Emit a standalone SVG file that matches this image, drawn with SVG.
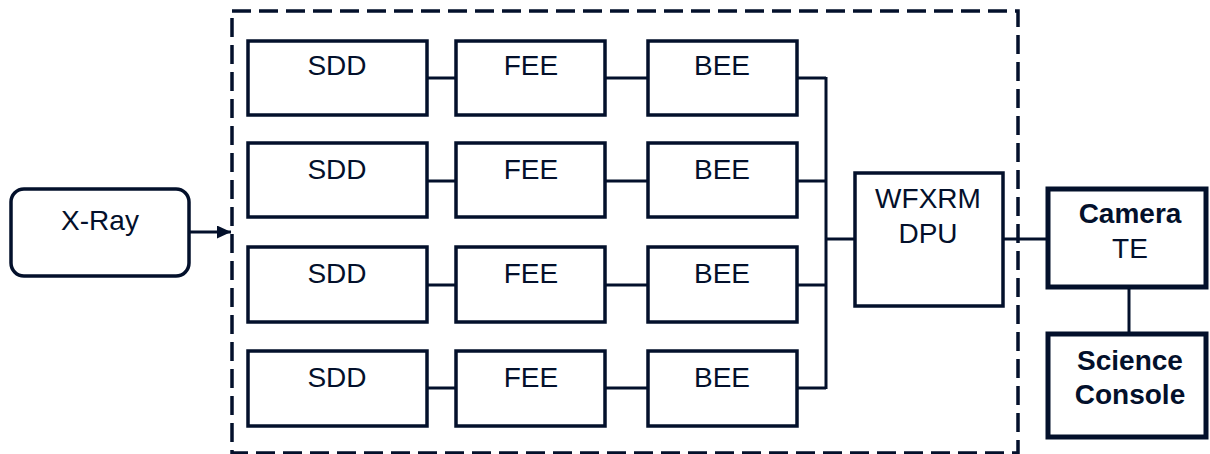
<svg xmlns="http://www.w3.org/2000/svg" width="1210" height="454" viewBox="0 0 1210 454">
<style>
.box{fill:#fff;stroke:#03102b;stroke-width:3.5}
.thick{fill:#fff;stroke:#03102b;stroke-width:5}
.t{font-family:"Liberation Sans",Arial,sans-serif;font-size:28px;fill:#03102b;text-anchor:middle}
.b{font-weight:bold}
.ln{fill:none;stroke:#03102b;stroke-width:3}
</style>
<defs>
<marker id="arr" viewBox="0 0 14 13" refX="14" refY="6.5" markerWidth="14" markerHeight="13" markerUnits="userSpaceOnUse" orient="auto">
<path d="M0,0 L14,6.5 L0,13 z" fill="#03102b"/>
</marker>
</defs>
<rect x="0" y="0" width="1210" height="454" fill="#fff"/>
<rect id="container" x="232" y="11" width="786" height="442" fill="none" stroke="#03102b" stroke-width="3.5" stroke-dasharray="19 8"/>
<g id="connectors">
<line class="ln" x1="190" y1="232" x2="231" y2="232" stroke-width="3.5" marker-end="url(#arr)"/>
<path class="ln" d="M427,78 H455 M605,78 H647 M797,78 H826"/>
<path class="ln" d="M427,181 H455 M605,181 H647 M797,181 H826"/>
<path class="ln" d="M427,285 H455 M605,285 H647 M797,285 H826"/>
<path class="ln" d="M427,388 H455 M605,388 H647 M797,388 H826"/>
<path class="ln" d="M826,77 V389"/>
<path class="ln" d="M826,239 H854" stroke-width="4.5"/>
<path class="ln" d="M1004,239 H1047"/>
<path class="ln" d="M1129,288 V333"/>
</g>
<g id="xray"><rect x="11" y="189" width="178" height="87" rx="13" class="box" stroke-width="4.5"/><text class="t" x="100" y="230">X-Ray</text></g>
<g id="sdd1"><rect class="box" x="248" y="41" width="179" height="74"/><text class="t" x="337" y="75">SDD</text></g>
<g id="fee1"><rect class="box" x="456" y="41" width="149" height="74"/><text class="t" x="531" y="75">FEE</text></g>
<g id="bee1"><rect class="box" x="648" y="41" width="149" height="74"/><text class="t" x="722" y="75">BEE</text></g>
<g id="sdd2"><rect class="box" x="248" y="143" width="179" height="74"/><text class="t" x="337" y="179">SDD</text></g>
<g id="fee2"><rect class="box" x="456" y="143" width="149" height="74"/><text class="t" x="531" y="179">FEE</text></g>
<g id="bee2"><rect class="box" x="648" y="143" width="149" height="74"/><text class="t" x="722" y="179">BEE</text></g>
<g id="sdd3"><rect class="box" x="248" y="247" width="179" height="75"/><text class="t" x="337" y="283">SDD</text></g>
<g id="fee3"><rect class="box" x="456" y="247" width="149" height="75"/><text class="t" x="531" y="283">FEE</text></g>
<g id="bee3"><rect class="box" x="648" y="247" width="149" height="75"/><text class="t" x="722" y="283">BEE</text></g>
<g id="sdd4"><rect class="box" x="248" y="351" width="179" height="75"/><text class="t" x="337" y="387">SDD</text></g>
<g id="fee4"><rect class="box" x="456" y="351" width="149" height="75"/><text class="t" x="531" y="387">FEE</text></g>
<g id="bee4"><rect class="box" x="648" y="351" width="149" height="75"/><text class="t" x="722" y="387">BEE</text></g>
<g id="dpu"><rect class="box" x="855" y="173" width="148" height="133"/><text class="t" x="928" y="208">WFXRM</text><text class="t" x="928" y="243">DPU</text></g>
<g id="camera"><rect class="thick" x="1048" y="189" width="158" height="98"/><text class="t b" x="1130" y="223">Camera</text><text class="t" x="1130" y="258">TE</text></g>
<g id="console"><rect class="thick" x="1048" y="334" width="158" height="103"/><text class="t b" x="1130" y="370">Science</text><text class="t b" x="1130" y="404">Console</text></g>
</svg>
